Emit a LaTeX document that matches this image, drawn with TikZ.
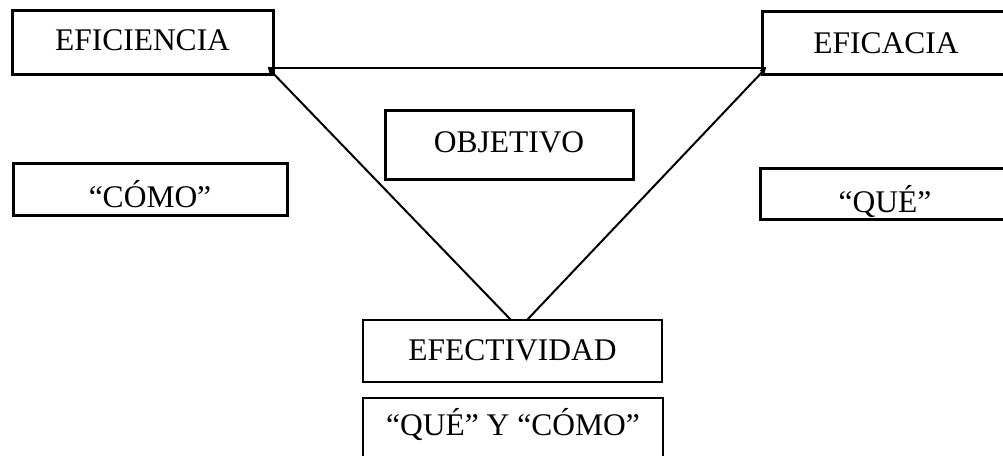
\documentclass[tikz,border=0pt]{standalone}
\usepackage{fontspec}
\setmainfont{Liberation Serif}
\usetikzlibrary{arrows.meta}
\begin{document}
\begin{tikzpicture}[x=1pt,y=-1pt,
  every node/.style={font=\fontsize{31.5}{36}\selectfont},
  box/.style={draw, line width=3pt, rectangle, inner sep=0pt, align=center},
  thinbox/.style={draw, line width=1.2pt, rectangle, inner sep=0pt, align=center},
  tx/.style 2 args={text height=#1pt, text depth=#2pt},
  edge/.style={line width=2pt},
  tip/.style={edge, -{Triangle[length=6pt,width=6pt]}}]
\useasboundingbox (0,0) rectangle (1003,455);
\node[box, minimum width=261pt, minimum height=64pt, tx={24}{8}] (efic) at (142.5,42) {EFICIENCIA};
\node[box, minimum width=248pt, minimum height=63pt, tx={24}{3}] (eficacia) at (886,42.5) {EFICACIA};
\node[box, minimum width=248pt, minimum height=69pt, tx={24}{9}] (obj) at (509,144.5) {OBJETIVO};
\node[box, minimum width=274pt, minimum height=52pt, tx={40}{4}] (como) at (150,189) {“CÓMO”};
\node[box, minimum width=250pt, minimum height=51pt, tx={40}{3}] (que) at (885,193.5) {“QUÉ”};
\node[thinbox, minimum width=299pt, minimum height=62pt, tx={24}{6}] (efect) at (512.5,351) {EFECTIVIDAD};
\node[thinbox, minimum width=300pt, minimum height=80pt, tx={24}{30}] (qyc) at (513,438) {“QUÉ” Y “CÓMO”};
\coordinate (tl) at (268,68);
\coordinate (tr) at (766,68);
\coordinate (bl) at (511,320);
\coordinate (br) at (527,320);
\draw[edge] (tl) -- (tr);
\draw[tip] (bl) -- (tl);
\draw[tip] (br) -- (tr);
\end{tikzpicture}
\end{document}
